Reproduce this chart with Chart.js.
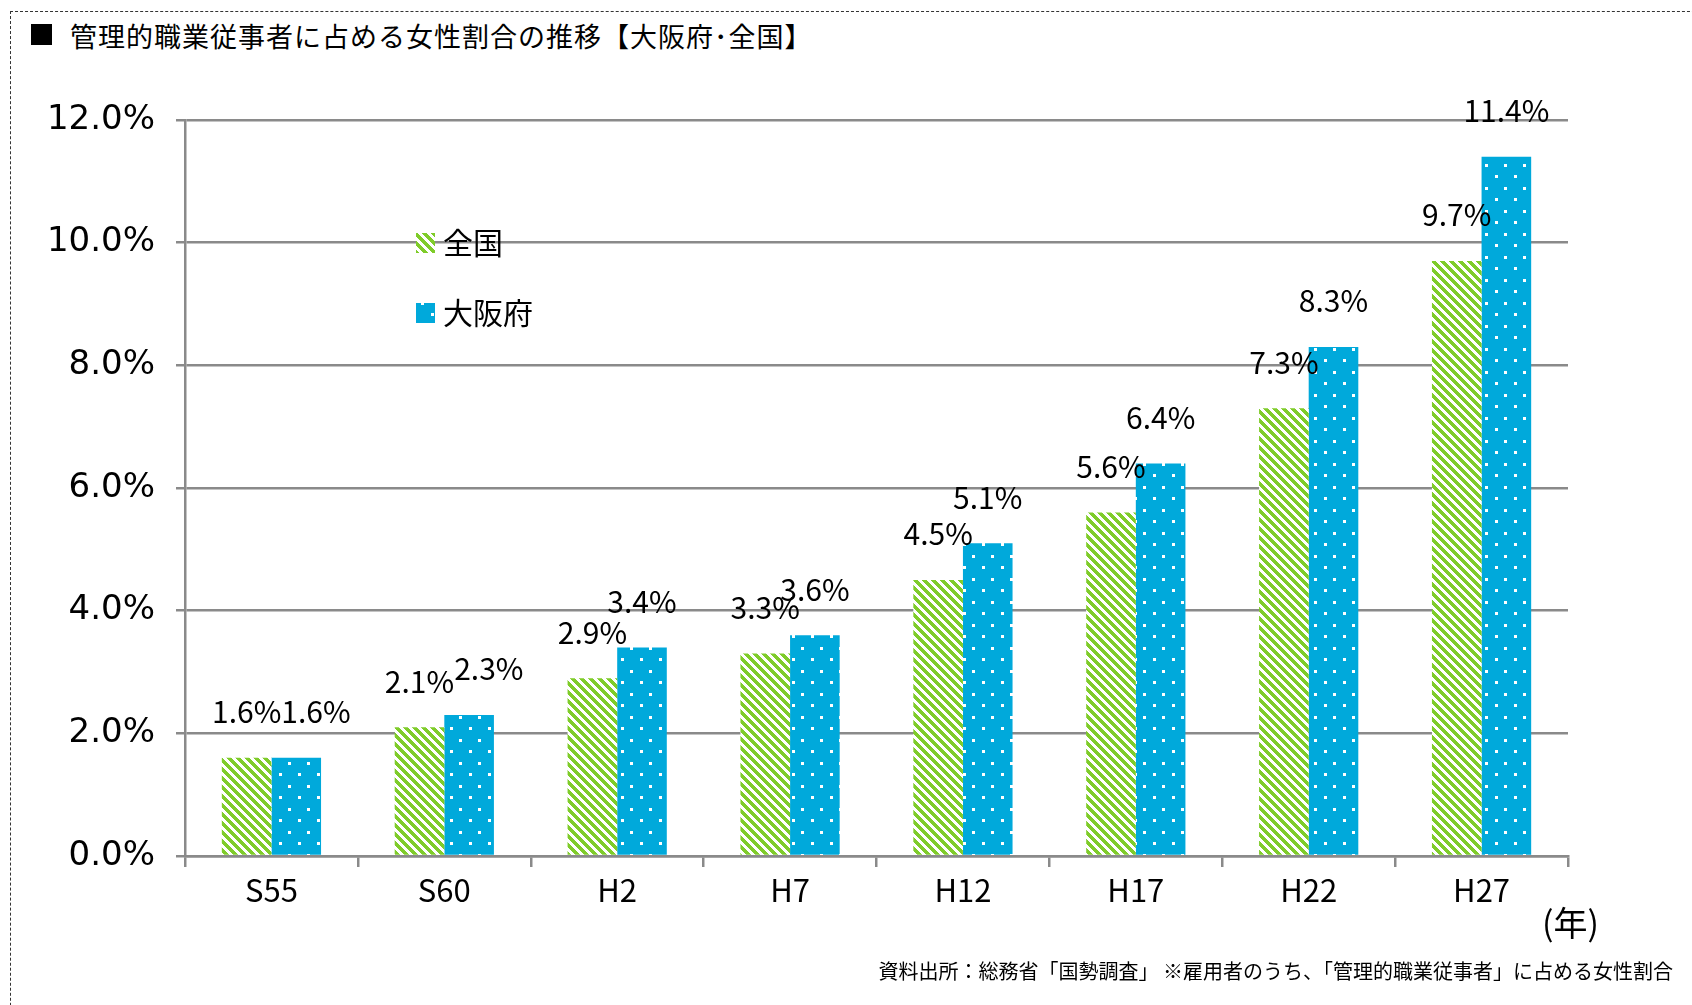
<!DOCTYPE html>
<html lang="ja">
<head>
<meta charset="utf-8">
<title>管理的職業従事者に占める女性割合の推移</title>
<script src="https://cdn.jsdelivr.net/npm/chart.js@4.4.1/dist/chart.umd.min.js"></script>
<style>
  html, body { margin: 0; padding: 0; background: #fff; }
  body { width: 1692px; height: 1005px; position: relative; overflow: hidden;
         font-family: "Noto Sans CJK JP", "Noto Sans", sans-serif; color: #000; }
  #frame { position: absolute; left: 10px; top: 11px; width: 1720px; height: 1100px;
           border: 1px dashed #333; box-sizing: border-box; }
  #mark { position: absolute; left: 31px; top: 24px; width: 21px; height: 21px; background: #000; }
  #title { position: absolute; left: 70px; top: 17px; font-size: 27px; line-height: 38px;
           letter-spacing: 1px; white-space: nowrap; }
  #unit { position: absolute; left: 1542px; top: 902px; font-size: 34px; line-height: 40px; }
  #source { position: absolute; right: 19px; top: 957px; font-size: 20px; line-height: 28px;
            white-space: nowrap; }
  #chart { position: absolute; left: 0; top: 0; }
</style>
</head>
<body>
<div id="frame"></div>
<div id="mark"></div>
<div id="title">管理的職業従事者に占める女性割合の推移【大阪府･全国】</div>
<canvas id="chart" width="1692" height="1005"></canvas>
<div id="unit">(年)</div>
<div id="source">資料出所：総務省「国勢調査」 ※雇用者のうち、「管理的職業従事者」に占める女性割合</div>
<script>
const YEARS = ["S55", "S60", "H2", "H7", "H12", "H17", "H22", "H27"];
const SERIES_NAMES = ["全国", "大阪府"];
const NATIONAL = [1.6, 2.1, 2.9, 3.3, 4.5, 5.6, 7.3, 9.7];
const OSAKA = [1.6, 2.3, 3.4, 3.6, 5.1, 6.4, 8.3, 11.4];
const Y_MAX = 12;
const Y_STEP = 2;

const GREEN = "#7fcc2a";
const BLUE = "#00a9db";
const GRID = "#8a8a8a";
const JP_FONT = "'Noto Sans CJK JP', 'Noto Sans', sans-serif";

// downward diagonal stripes, 9px period
function stripePattern(ctx) {
  const size = 9;
  const c = document.createElement("canvas");
  c.width = size;
  c.height = size;
  const g = c.getContext("2d");
  g.fillStyle = "#fff";
  g.fillRect(0, 0, size, size);
  g.fillStyle = GREEN;
  for (let y = 0; y < size; y++) {
    for (let x = 0; x < size; x++) {
      if ((((x - y) % size) + size) % size < 5) g.fillRect(x, y, 1, 1);
    }
  }
  return ctx.createPattern(c, "repeat");
}

// small white dots on blue, staggered rows
function dotPattern(ctx) {
  const c = document.createElement("canvas");
  c.width = 19;
  c.height = 23;
  const g = c.getContext("2d");
  g.fillStyle = BLUE;
  g.fillRect(0, 0, 19, 23);
  g.fillStyle = "#fff";
  g.fillRect(3, 3, 3, 3);
  g.fillRect(13, 14, 3, 3);
  return ctx.createPattern(c, "repeat");
}

const canvas = document.getElementById("chart");
const ctx = canvas.getContext("2d");
const greenFill = stripePattern(ctx);
const blueFill = dotPattern(ctx);

const valueLabels = {
  id: "valueLabels",
  afterDatasetsDraw(chart) {
    const c = chart.ctx;
    c.save();
    c.font = "30px " + JP_FONT;
    c.fillStyle = "#000";
    c.textBaseline = "middle";
    c.textAlign = "left";
    YEARS.forEach((_, i) => {
      let prev = null;
      chart.data.datasets.forEach((ds, di) => {
        const bar = chart.getDatasetMeta(di).data[i];
        const text = ds.data[i].toFixed(1) + "%";
        const w = c.measureText(text).width;
        const y = bar.y - 46;
        let x = bar.x - w / 2;
        // push the second label clear of the first when they sit on the same row
        if (prev && Math.abs(prev.y - y) < 15 && x < prev.right) x = prev.right;
        c.fillText(text, x, y);
        prev = { y, right: x + w };
      });
    });
    c.restore();
  }
};

const floatingLegend = {
  id: "floatingLegend",
  afterDatasetsDraw(chart) {
    const c = chart.ctx;
    const fills = [greenFill, blueFill];
    const rows = [243, 313];
    c.save();
    c.font = "30px " + JP_FONT;
    c.textBaseline = "middle";
    SERIES_NAMES.forEach((name, i) => {
      c.fillStyle = fills[i];
      c.fillRect(416, rows[i] - 10, 19, 20);
      c.fillStyle = "#000";
      c.fillText(name, 443, rows[i]);
    });
    c.restore();
  }
};

new Chart(canvas, {
  type: "bar",
  data: {
    labels: YEARS,
    datasets: [
      { label: SERIES_NAMES[0], data: NATIONAL, backgroundColor: greenFill, borderWidth: 0 },
      { label: SERIES_NAMES[1], data: OSAKA, backgroundColor: blueFill, borderWidth: 0 }
    ]
  },
  options: {
    responsive: false,
    animation: false,
    devicePixelRatio: 1,
    layout: { padding: { top: 120, right: 124, left: 0, bottom: 0 } },
    datasets: { bar: { categoryPercentage: 0.574, barPercentage: 1 } },
    plugins: {
      legend: { display: false },
      tooltip: { enabled: false }
    },
    scales: {
      x: {
        afterFit(scale) { scale.height = 149; },
        grid: { offset: true, drawOnChartArea: false, color: GRID, lineWidth: 2.5, tickLength: 11 },
        border: { color: GRID, width: 2.5 },
        ticks: { color: "#000", padding: 5, font: { family: JP_FONT, size: 31 } }
      },
      y: {
        min: 0,
        max: Y_MAX,
        afterFit(scale) { scale.width = 185; },
        grid: { color: GRID, lineWidth: 2.5, tickLength: 9 },
        border: { color: GRID, width: 2.5 },
        ticks: {
          stepSize: Y_STEP,
          color: "#000",
          padding: 21,
          font: { family: "'DejaVu Sans', sans-serif", size: 34 },
          callback: (v) => Number(v).toFixed(1) + "%"
        }
      }
    }
  },
  plugins: [valueLabels, floatingLegend]
});
</script>
</body>
</html>
